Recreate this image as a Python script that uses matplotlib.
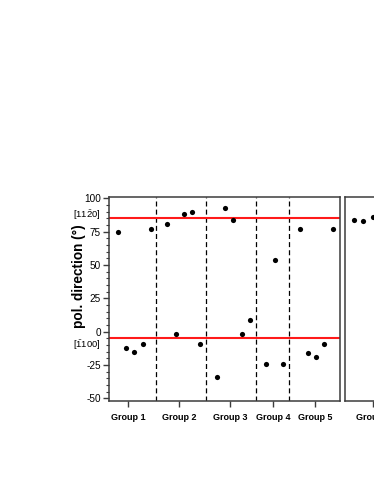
import matplotlib
matplotlib.use("Agg")
import matplotlib.pyplot as plt
import matplotlib.transforms as mtransforms
from matplotlib.ticker import MultipleLocator

plt.rcParams['font.family'] = ['Liberation Sans', 'DejaVu Sans']
plt.rcParams['mathtext.fontset'] = 'custom'
plt.rcParams['mathtext.rm'] = 'Liberation Sans'
plt.rcParams['mathtext.it'] = 'Liberation Sans'
plt.rcParams['axes.unicode_minus'] = False

# ---- data ----
sample_x = [1, 2, 3, 4, 5,
            7, 8, 9, 10, 11,
            13, 14, 15, 16, 17,
            19, 20, 21,
            23, 24, 25, 26, 27]
sample_y = [75, -12, -15, -9, 77,            # group 1
            81, -2, 88, 90, -9,              # group 2
            -34, 93, 84, -2, 9,              # group 3
            -24, 54, -24,                    # group 4
            77, -16, -19, -9, 77]            # group 5
group_names = ["Group 1", "Group 2", "Group 3", "Group 4", "Group 5"]
group_ticks = [2.25, 8.4, 14.6, 19.8, 24.85]
separators = [5.6, 11.7, 17.7, 21.75]
ref_dirs = [85, -5]
ref_labels = [r"$[11\bar{2}0]$", r"$[\bar{1}100]$"]

g6_x = [1, 2.1, 3.25]
g6_y = [84, 83, 86]
g6_name = ["Group 6"]
g6_tick = [3.3]

W, H = 374, 484
fig = plt.figure(figsize=(W / 100, H / 100), dpi=100)

left, right, top, bottom = 108.7, 340, 196.7, 401
ax = fig.add_axes([left / W, 1 - bottom / H, (right - left) / W, (bottom - top) / H])
ax2 = fig.add_axes([345 / W, 1 - bottom / H, (right - left) / W, (bottom - top) / H])

spine_col = '#3c3c3c'
for a in (ax, ax2):
    for s in a.spines.values():
        s.set_color(spine_col)
        s.set_linewidth(1.1)
    a.set_ylim(-52, 101.3)
    a.set_xlim(-0.1, 27.9)
    a.tick_params(axis='both', direction='out', color=spine_col, width=1.0,
                  length=4, labelsize=7.2, pad=1.5)
    a.tick_params(axis='x', labelsize=6.5, pad=4.5)
    a.tick_params(axis='y', which='minor', direction='out', length=2,
                  width=0.8, color=spine_col)
    a.yaxis.set_major_locator(MultipleLocator(25))
    a.yaxis.set_minor_locator(MultipleLocator(5))

# main panel
for yv in ref_dirs:
    ax.axhline(yv, color='#ff1a1a', lw=1.5, zorder=2)
for xs in separators:
    ax.axvline(xs, color='black', lw=0.9, ls=(0, (4, 2.5)), zorder=1)
ax.scatter(sample_x, sample_y, s=14, color='black', zorder=3, linewidths=0)
ax.set_xticks(group_ticks)
ax.set_xticklabels(group_names, fontweight='bold')

blend = mtransforms.blended_transform_factory(ax.transAxes, ax.transData)
ax.text(-0.033, 87.3, ref_labels[0], transform=blend, ha='right', va='center', fontsize=6.8)
ax.text(-0.033, -9.8, ref_labels[1], transform=blend, ha='right', va='center', fontsize=6.8)

ax.text(-0.128, 0.61, "pol. direction (°)", transform=ax.transAxes, rotation=90,
        ha='center', va='center', fontsize=9.8, fontweight='bold')

# second panel (partly cut off)
ax2.scatter(g6_x, g6_y, s=14, color='black', zorder=3, linewidths=0, clip_on=False)
ax2.set_xticks(g6_tick)
ax2.set_xticklabels(g6_name, fontweight='bold')
ax2.set_yticklabels([])
ax2.tick_params(axis='y', which='both', length=0)

fig.savefig("out.png", dpi=100)
